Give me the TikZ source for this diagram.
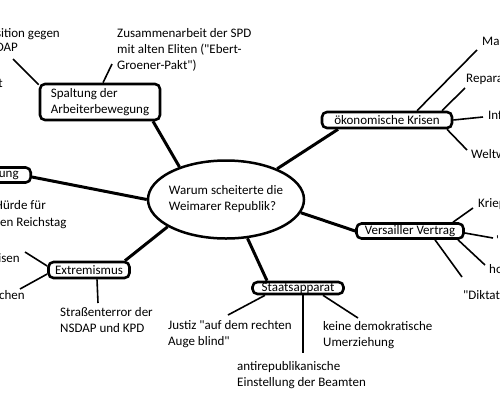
\documentclass[tikz,border=0pt]{standalone}
\usepackage{fontspec}
\setmainfont{Carlito}[Ligatures=TeXOff]
\usetikzlibrary{shapes.geometric}
\begin{document}
\begin{tikzpicture}[x=1pt,y=-1pt,
  every node/.style={font=\fontsize{13}{16}\selectfont},
  box/.style={draw, line width=2.6pt, rounded corners=5pt, inner sep=0pt},
  mainline/.style={line width=3pt},
  subline/.style={line width=1.6pt},
  lbl/.style={inner sep=0pt, align=left}]
\useasboundingbox (0,0) rectangle (500,400);
\clip (0,0) rectangle (500,400);

% central ellipse
\node[draw, ellipse, line width=2.5pt, minimum width=156pt, minimum height=78pt,
      inner xsep=-5pt, inner ysep=0pt, align=left] (q) at (226,199.5)
      {Warum scheiterte die\\Weimarer Republik?};

% main boxes
\node[box, minimum width=120pt, minimum height=36pt, align=left] (spalt) at (100,102)
      {Spaltung der\\Arbeiterbewegung};
\node[box, minimum width=130pt, minimum height=16pt] (oek) at (387,120) {ökonomische Krisen};
\node[box, minimum width=107pt, minimum height=15pt] (vers) at (410,231) {Versailler Vertrag};
\node[box, minimum width=91pt, minimum height=12pt] (staat) at (298,288) {Staatsapparat};
\node[box, minimum width=81pt, minimum height=16pt] (extr) at (89,270) {Extremismus};
\node[box, anchor=east, text width=80pt, inner xsep=12pt, minimum height=15pt, align=right] (ung) at (32,175) {ung};

% main connectors
\draw[mainline] (q.145) -- ([xshift=53pt]spalt.south);
\draw[mainline] (q.31) -- ([xshift=-49pt]oek.south);
\draw[mainline] (q.-10) -- (vers.west);
\draw[mainline] (q.-61) -- ([xshift=-31pt]staat.north);
\draw[mainline] (q.205) -- ([xshift=36pt]extr.north);
\draw[mainline] (q.west) -- ([yshift=-2pt]ung.east);

% free ends
\coordinate (s1) at (13,59);
\coordinate (s2) at (112,64);
\coordinate (o1) at (477,50);
\coordinate (o2) at (465,88);
\coordinate (o3) at (483,117);
\coordinate (o4) at (467,150);
\coordinate (v1) at (473,208);
\coordinate (v2) at (493,238);
\coordinate (v3) at (485,265);
\coordinate (v4) at (462,277);
\coordinate (a1) at (228,315);
\coordinate (a2) at (303,353);
\coordinate (a3) at (358,318);
\coordinate (e1) at (25,252);
\coordinate (e2) at (20,289);
\coordinate (e3) at (98,303);

% sub connectors
\draw[subline] ([yshift=-2pt]spalt.north west) -- (s1);
\draw[subline] ([xshift=3pt]spalt.north) -- (s2);
\draw[subline] ([xshift=30pt]oek.north) -- (o1);
\draw[subline] ([xshift=55pt]oek.north) -- (o2);
\draw[subline] (oek.east) -- (o3);
\draw[subline] ([xshift=60pt]oek.south) -- (o4);
\draw[subline] ([xshift=43pt]vers.north) -- (v1);
\draw[subline] ([yshift=-2pt]vers.east) -- (v2);
\draw[subline] ([xshift=48pt]vers.south) -- (v3);
\draw[subline] ([xshift=25pt]vers.south) -- (v4);
\draw[subline] ([xshift=-33pt]staat.south) -- (a1);
\draw[subline] ([xshift=5pt]staat.south) -- (a2);
\draw[subline] ([xshift=25pt]staat.south) -- (a3);
\draw[subline] ([yshift=4pt]extr.west) -- (e1);
\draw[subline] ([yshift=-4pt]extr.west) -- (e2);
\draw[subline] ([xshift=8pt]extr.south) -- (e3);

% labels (multi-line: base anchor = last line's baseline)
\node[lbl, anchor=base east] (t1) at (60,37.5) {sition gegen};
\node[lbl, anchor=base east] (t2) at (18,51.5) {DAP};
\node[lbl, anchor=base east] (t3) at (3,87.5) {t};
\node[lbl, anchor=base west] (t4) at (117,69.5) {Zusammenarbeit der SPD\\mit alten Eliten ("Ebert-\\Groener-Pakt")};
\node[lbl, anchor=base west] (t5) at (482,45.5) {Ma};
\node[lbl, anchor=base west] (t6) at (466,82.5) {Repara};
\node[lbl, anchor=base west] (t7) at (488,119.5) {Inf};
\node[lbl, anchor=base west] (t8) at (471,158.5) {Weltw};
\node[lbl, anchor=base west] (t9) at (478,207.5) {Kriep};
\node[lbl, anchor=base west] (t10) at (496,244) {'};
\node[lbl, anchor=base west] (t11) at (489,273.5) {ho};
\node[lbl, anchor=base west] (t12) at (463,299.5) {"Diktat};
\node[lbl, anchor=base west] (t13) at (168,345.5) {Justiz "auf dem rechten\\Auge blind"};
\node[lbl, anchor=base west] (t14) at (237,386.5) {antirepublikanische\\Einstellung der Beamten};
\node[lbl, anchor=base west] (t15) at (323,346.5) {keine demokratische\\Umerziehung};
\node[lbl, anchor=base east] (t16) at (20,262.5) {isen};
\node[lbl, anchor=base east] (t17) at (25,299.5) {chen};
\node[lbl, anchor=base west] (t18) at (60,332.5) {Straßenterror der\\NSDAP und KPD};
\node[lbl, anchor=base east] (t19) at (46,209.5) {Hürde für};
\node[lbl, anchor=base west] (t20) at (0,226.5) {en Reichstag};
\end{tikzpicture}
\end{document}
